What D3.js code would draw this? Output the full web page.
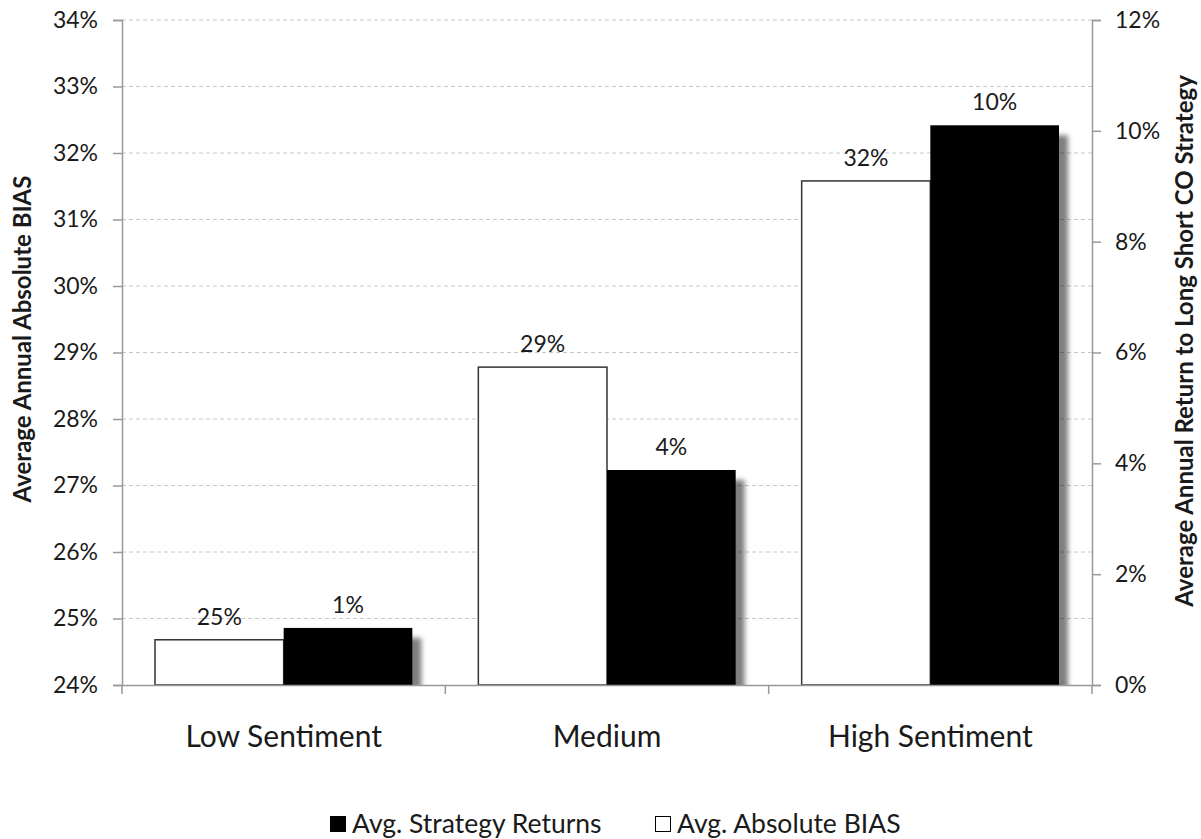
<!DOCTYPE html>
<html>
<head>
<meta charset="utf-8">
<script src="https://cdn.jsdelivr.net/npm/d3@7"></script>
<style>
  body { margin: 0; background: #fff; }
  svg text { font-family: Lato, "Open Sans", sans-serif; fill: #1a1a1a; }
</style>
</head>
<body>
<div id="chart"></div>
<script>
// data
var categories = ['Low Sentiment', 'Medium', 'High Sentiment'];
var biasValues = [0.2468, 0.2878, 0.3158];     // left axis, white bars
var returnValues = [0.0103, 0.0388, 0.1010];   // right axis, black bars
var biasLabels = ['25%', '29%', '32%'];
var returnLabels = ['1%', '4%', '10%'];
var leftTicks = [0.24, 0.25, 0.26, 0.27, 0.28, 0.29, 0.30, 0.31, 0.32, 0.33, 0.34];
var rightTicks = [0, 0.02, 0.04, 0.06, 0.08, 0.10, 0.12];

var W = 1201, H = 839;
var m = {left: 122, right: 1092, top: 20, bottom: 685};

var svg = d3.select('#chart').append('svg').attr('width', W).attr('height', H);

var defs = svg.append('defs');
var f = defs.append('filter').attr('id', 'shadow')
  .attr('x', '-10%').attr('y', '-10%').attr('width', '130%').attr('height', '130%');
f.append('feDropShadow').attr('dx', 9).attr('dy', 10).attr('stdDeviation', 2.5)
  .attr('flood-color', '#000').attr('flood-opacity', 0.5);
defs.append('clipPath').attr('id', 'plotclip').append('rect')
  .attr('x', m.left).attr('y', 0).attr('width', m.right - m.left).attr('height', m.bottom);

var x = d3.scaleBand().domain(categories).range([m.left, m.right]).paddingInner(0).paddingOuter(0);
var yL = d3.scaleLinear().domain([0.24, 0.34]).range([m.bottom, m.top]);
var yR = d3.scaleLinear().domain([0, 0.12]).range([m.bottom, m.top]);
var pct = d3.format('.0%');

var inner = 33; // gap inside each band
var barW = (x.bandwidth() - 2 * inner) / 2;

// gridlines
svg.append('g').selectAll('line').data(leftTicks.slice(1)).join('line')
  .attr('x1', m.left).attr('x2', m.right)
  .attr('y1', d => yL(d)).attr('y2', d => yL(d))
  .attr('stroke', '#c8c8c8').attr('stroke-dasharray', '4,3');

var plot = svg.append('g').attr('clip-path', 'url(#plotclip)');

// white bars
plot.selectAll('rect.bias').data(categories).join('rect').attr('class', 'bias')
  .attr('x', (d) => x(d) + inner)
  .attr('y', (d, i) => yL(biasValues[i]))
  .attr('width', barW)
  .attr('height', (d, i) => m.bottom - yL(biasValues[i]))
  .attr('fill', '#fff').attr('stroke', '#333').attr('stroke-width', 1.5);

// black bars with shadow
plot.selectAll('rect.ret').data(categories).join('rect').attr('class', 'ret')
  .attr('x', (d) => x(d) + inner + barW)
  .attr('y', (d, i) => yR(returnValues[i]))
  .attr('width', barW)
  .attr('height', (d, i) => m.bottom - yR(returnValues[i]))
  .attr('fill', '#000').attr('filter', 'url(#shadow)');

// data labels
svg.selectAll('text.bl').data(categories).join('text').attr('class', 'bl')
  .attr('x', (d) => x(d) + inner + barW / 2)
  .attr('y', (d, i) => yL(biasValues[i]) - 15)
  .attr('text-anchor', 'middle').attr('font-size', 23)
  .text((d, i) => biasLabels[i]);
svg.selectAll('text.rl').data(categories).join('text').attr('class', 'rl')
  .attr('x', (d) => x(d) + inner + barW * 1.5)
  .attr('y', (d, i) => yR(returnValues[i]) - 15)
  .attr('text-anchor', 'middle').attr('font-size', 23)
  .text((d, i) => returnLabels[i]);

// axes
var axL = svg.append('g').attr('transform', 'translate(' + m.left + ',0)')
  .call(d3.axisLeft(yL).tickValues(leftTicks).tickFormat(pct).tickSize(9).tickPadding(15));
var axR = svg.append('g').attr('transform', 'translate(' + m.right + ',0)')
  .call(d3.axisRight(yR).tickValues(rightTicks).tickFormat(pct).tickSize(9).tickPadding(14));
var axB = svg.append('g').attr('transform', 'translate(0,' + m.bottom + ')')
  .call(d3.axisBottom(x).tickSize(0));
[axL, axR].forEach(function (a) {
  a.select('.domain').attr('stroke', '#999').attr('stroke-width', 1.5);
  a.selectAll('.tick line').attr('stroke', '#999').attr('stroke-width', 1.5);
  a.selectAll('.tick text').attr('font-size', 23).attr('font-family', 'Lato, sans-serif').attr('fill', '#1a1a1a');
});
axB.select('.domain').attr('stroke', '#999').attr('stroke-width', 1.5);
axB.selectAll('.tick text').attr('font-size', 30).attr('font-family', 'Lato, sans-serif')
  .attr('fill', '#1a1a1a').attr('dy', null).attr('y', 62);
// category separators
axB.selectAll('line.sep').data(x.domain().map(d => x(d)).concat([m.right])).join('line')
  .attr('class', 'sep').attr('x1', d => d).attr('x2', d => d)
  .attr('y1', 0).attr('y2', 9).attr('stroke', '#999').attr('stroke-width', 1.5);

// axis titles
svg.append('text').attr('transform', 'translate(31,339) rotate(-90)')
  .attr('text-anchor', 'middle').attr('font-size', 24).attr('font-weight', 'bold')
  .text('Average Annual Absolute BIAS');
svg.append('text').attr('transform', 'translate(1193,341) rotate(-90)')
  .attr('text-anchor', 'middle').attr('font-size', 24).attr('font-weight', 'bold')
  .text('Average Annual Return to Long Short CO Strategy');

// legend
var lg = svg.append('g').attr('transform', 'translate(330,833)');
lg.append('rect').attr('x', 0).attr('y', -17).attr('width', 16).attr('height', 16).attr('fill', '#000');
lg.append('text').attr('x', 22).attr('y', 0).attr('font-size', 26.5).text('Avg. Strategy Returns');
lg.append('rect').attr('x', 325.5).attr('y', -16.5).attr('width', 15).attr('height', 15)
  .attr('fill', '#fff').attr('stroke', '#000').attr('stroke-width', 1);
lg.append('text').attr('x', 347).attr('y', 0).attr('font-size', 26.5).text('Avg. Absolute BIAS');
</script>
</body>
</html>
